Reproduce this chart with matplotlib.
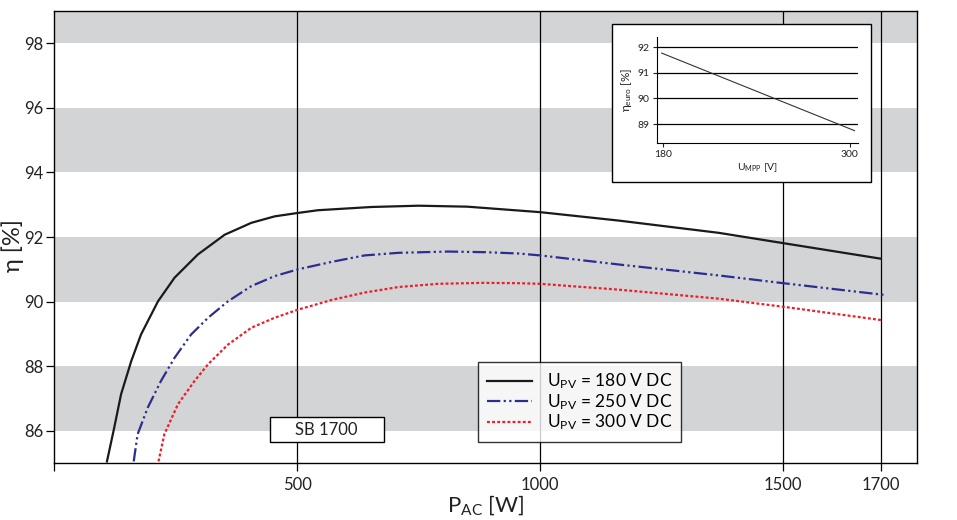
import numpy as np
import matplotlib.pyplot as plt
from matplotlib.patches import Rectangle

plt.rcParams['font.family'] = ['Lato', 'DejaVu Sans']
plt.rcParams['mathtext.default'] = 'regular'

# efficiency curves
p_180 = [109, 124, 138, 159, 179, 214, 248, 296, 351, 406, 454, 499, 543, 653, 750, 850, 1000, 1161, 1367, 1500, 1700]
eta_180 = [85.05, 86.1, 87.13, 88.16, 88.98, 90.01, 90.74, 91.46, 92.07, 92.44, 92.64, 92.74, 92.83, 92.93, 92.97, 92.94, 92.77, 92.51, 92.13, 91.81, 91.33]

p_250 = [164, 172, 193, 220, 248, 282, 317, 358, 406, 454, 502, 571, 639, 708, 811, 887, 955, 1000, 1161, 1367, 1500, 1706]
eta_250 = [85.05, 85.89, 86.72, 87.54, 88.26, 88.98, 89.5, 90.01, 90.48, 90.79, 91.0, 91.23, 91.43, 91.51, 91.55, 91.53, 91.49, 91.43, 91.15, 90.81, 90.57, 90.21]

p_300 = [215, 227, 255, 289, 317, 358, 406, 454, 502, 571, 639, 708, 790, 880, 955, 1000, 1161, 1367, 1500, 1705]
eta_300 = [85.05, 85.89, 86.82, 87.54, 88.06, 88.67, 89.19, 89.5, 89.75, 90.05, 90.28, 90.45, 90.55, 90.58, 90.57, 90.55, 90.37, 90.09, 89.84, 89.42]

labels = ['U$_{PV}$ = 180 V DC', 'U$_{PV}$ = 250 V DC', 'U$_{PV}$ = 300 V DC']

# euro efficiency vs MPP voltage (inset)
u_mpp = [179, 303]
eta_euro = [91.77, 88.74]

x_ticks = [500, 1000, 1500, 1700]
y_ticks = [86, 88, 90, 92, 94, 96, 98]
bands = [(86, 88), (90, 92), (94, 96), (98, 99)]

fig = plt.figure(figsize=(9.57, 5.20), dpi=100)
ax = fig.add_axes([0.0564, 0.1096, 0.9018, 0.8692])
ax.set_xlim(0, 1775)
ax.set_ylim(85, 99)

for lo, hi in bands:
    ax.axhspan(lo, hi, color='#d3d4d6', lw=0, zorder=0)
for xv in x_ticks:
    ax.axvline(xv, color='black', lw=0.9, zorder=1)

ax.plot(p_180, eta_180, color='#1a1a1a', lw=1.6, label=labels[0], zorder=3)
ax.plot(p_250, eta_250, color='#2b2e8f', lw=1.6, ls=(0, (6, 1.5, 1, 1.5, 1, 1.5)), label=labels[1], zorder=3)
ax.plot(p_300, eta_300, color='#e8202a', lw=1.6, ls=(0, (1.3, 1.0)), label=labels[2], zorder=3)

ax.set_xticks([0] + x_ticks)
ax.set_xticklabels([''] + [str(v) for v in x_ticks], fontsize=12, color='#222222')
ax.set_yticks(y_ticks)
ax.set_yticklabels([str(v) for v in y_ticks], fontsize=12, color='#222222')
ax.tick_params(direction='out', length=6, width=0.9)
ax.tick_params(axis='y', pad=1.5)
ax.tick_params(axis='x', pad=4)
for s in ax.spines.values():
    s.set_linewidth(1.0)
ax.set_xlabel('P$_{AC}$ [W]', fontsize=16, color='#222222', labelpad=0)
ax.set_ylabel('η [%]', fontsize=17, color='#222222')
ax.yaxis.set_label_coords(-0.035, 0.48)

leg = ax.legend(loc='lower left', bbox_to_anchor=(0.491, 0.0465, 0.235, 0.176), mode='expand',
                fontsize=12.5, frameon=True, fancybox=False, handlelength=2.6, handletextpad=0.85,
                borderpad=0.55, labelspacing=0.05, borderaxespad=0)
leg.get_frame().set_edgecolor('black')
leg.get_frame().set_linewidth(1.0)
leg.set_zorder(5)

# model name box
ax.add_patch(Rectangle((444, 85.64), 234, 0.8, fc='white', ec='black', lw=1.0, zorder=5))
ax.text(561, 86.03, 'SB 1700', fontsize=12, ha='center', va='center', color='#222222', zorder=6)

# inset frame
ax.add_patch(Rectangle((0.6392, 0.6494), 0.2706, 0.3044, transform=fig.transFigure,
                       fc='white', ec='black', lw=1.0, zorder=8, clip_on=False))

ins = fig.add_axes([0.6862, 0.7256, 0.2100, 0.2038])
ins.set_xlim(175.8, 305)
ins.set_ylim(88.27, 92.41)
for yv in [89, 90, 91, 92]:
    ins.axhline(yv, color='black', lw=0.9)
ins.plot(u_mpp, eta_euro, color='#333333', lw=0.8)
ins.set_xticks([180, 300])
ins.set_yticks([89, 90, 91, 92])
ins.tick_params(labelsize=7.5, length=3, width=0.8, colors='#222222', pad=2)
ins.spines['top'].set_visible(False)
ins.spines['right'].set_visible(False)
ins.set_xlabel('U$_{MPP}$ [V]', fontsize=7.5, color='#222222', labelpad=2)
ins.set_ylabel('η$_{euro}$ [%]', fontsize=8.5, color='#222222', labelpad=3)
ins.patch.set_alpha(0)

fig.savefig('out.png', dpi=100)
